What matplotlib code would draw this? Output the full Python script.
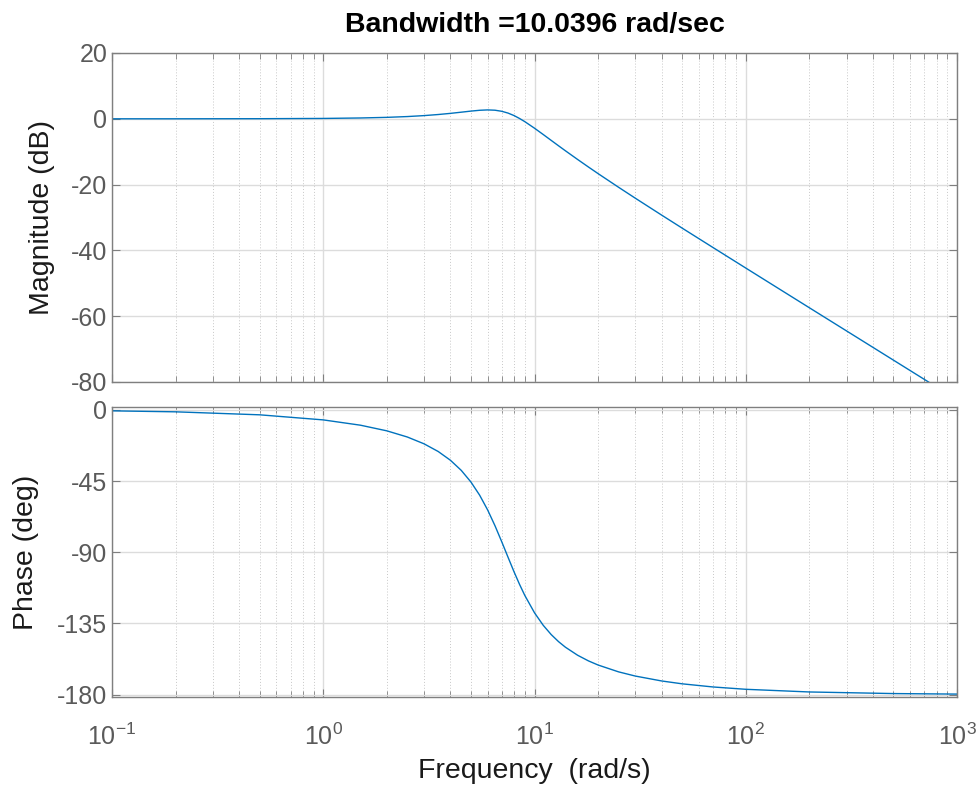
import numpy as np
import matplotlib
matplotlib.use("Agg")
import matplotlib.pyplot as plt
from matplotlib.ticker import LogLocator, NullFormatter

plt.rcParams['font.family'] = ['Liberation Sans', 'DejaVu Sans']
plt.rcParams['mathtext.fontset'] = 'custom'
plt.rcParams['mathtext.rm'] = 'Liberation Sans'
plt.rcParams['mathtext.it'] = 'Liberation Sans'
plt.rcParams['axes.unicode_minus'] = False

# frequency samples (rad/s)
freq = [0.1, 0.2, 0.5, 1, 1.5, 2, 2.5, 3, 3.5, 4, 4.5, 5, 5.5, 6, 6.5, 7,
        7.5, 8, 8.5, 9, 10, 11, 12, 13, 14, 16, 18, 20, 25, 30, 40, 50,
        70, 100, 200, 500, 1000]
mag_db = [0.00, 0.00, 0.03, 0.11, 0.25, 0.44, 0.68, 0.97, 1.30, 1.65, 2.01,
          2.34, 2.59, 2.70, 2.61, 2.28, 1.73, 0.98, 0.09, -0.87, -2.86,
          -4.78, -6.57, -8.21, -9.71, -12.36, -14.65, -16.66, -20.81,
          -24.13, -29.28, -33.23, -39.13, -45.36, -57.43, -73.35, -85.39]
phase_deg = [-0.63, -1.25, -3.14, -6.35, -9.70, -13.27, -17.16, -21.47,
             -26.32, -31.87, -38.25, -45.59, -53.94, -63.26, -73.24, -83.43,
             -93.28, -102.35, -110.38, -117.33, -128.27, -136.20, -142.06,
             -146.52, -150.01, -155.11, -158.67, -161.29, -165.61, -168.26,
             -171.37, -173.17, -175.16, -176.63, -178.32, -179.33, -179.66]

title = 'Bandwidth =10.0396 rad/sec'
mag_ticks = [-80, -60, -40, -20, 0, 20]
phase_ticks = [-180, -135, -90, -45, 0]
x_ticks = [0.1, 1, 10, 100, 1000]
x_ticklabels = ['$10^{-1}$', '$10^{0}$', '$10^{1}$', '$10^{2}$', '$10^{3}$']

line_color = '#0072BD'
axis_color = '#7f7f7f'
tick_color = '#5a5a5a'
label_color = '#1a1a1a'

fig = plt.figure(figsize=(9.8, 7.86), dpi=100)
ax1 = fig.add_axes([112/980, 1 - 382/786, 845/980, 329/786])
ax2 = fig.add_axes([112/980, 1 - 697/786, 845/980, 290/786])


def style(ax):
    ax.set_xscale('log')
    ax.set_xlim(0.1, 1000)
    ax.xaxis.set_major_locator(LogLocator(base=10, numticks=10))
    ax.xaxis.set_minor_locator(LogLocator(base=10, subs=np.arange(2, 10), numticks=20))
    ax.xaxis.set_minor_formatter(NullFormatter())
    ax.grid(True, which='major', color='#dcdcdc', linewidth=1.0, linestyle='-')
    ax.grid(True, which='minor', color='#c8c8c8', linewidth=0.7, linestyle=(0, (1, 2)))
    ax.set_axisbelow(True)
    for s in ax.spines.values():
        s.set_color(axis_color)
        s.set_linewidth(1.0)
    ax.tick_params(which='both', direction='in', top=True, right=True,
                   color=axis_color, labelcolor=tick_color, labelsize=18)
    ax.tick_params(which='major', length=6)
    ax.tick_params(which='minor', length=4)


style(ax1)
ax1.plot(freq, mag_db, color=line_color, linewidth=1.0)
ax1.set_ylim(-80, 20)
ax1.set_yticks(mag_ticks)
ax1.set_xticks(x_ticks)
ax1.set_xticklabels([])
ax1.set_ylabel('Magnitude (dB)', fontsize=20.5, color=label_color, labelpad=11)
ax1.set_title(title, fontsize=20.5, fontweight='bold', pad=15)

style(ax2)
ax2.plot(freq, phase_deg, color=line_color, linewidth=1.0)
ax2.set_ylim(-181.5, 1.8)
ax2.set_yticks(phase_ticks)
ax2.set_xticks(x_ticks)
ax2.set_xticklabels(x_ticklabels, fontsize=18)
ax2.tick_params(axis='x', pad=19)
ax2.set_ylabel('Phase (deg)', fontsize=20.5, color=label_color, labelpad=13)
ax2.set_xlabel('Frequency  (rad/s)', fontsize=20.5, color=label_color, labelpad=6)

fig.savefig('out.png', dpi=100)
